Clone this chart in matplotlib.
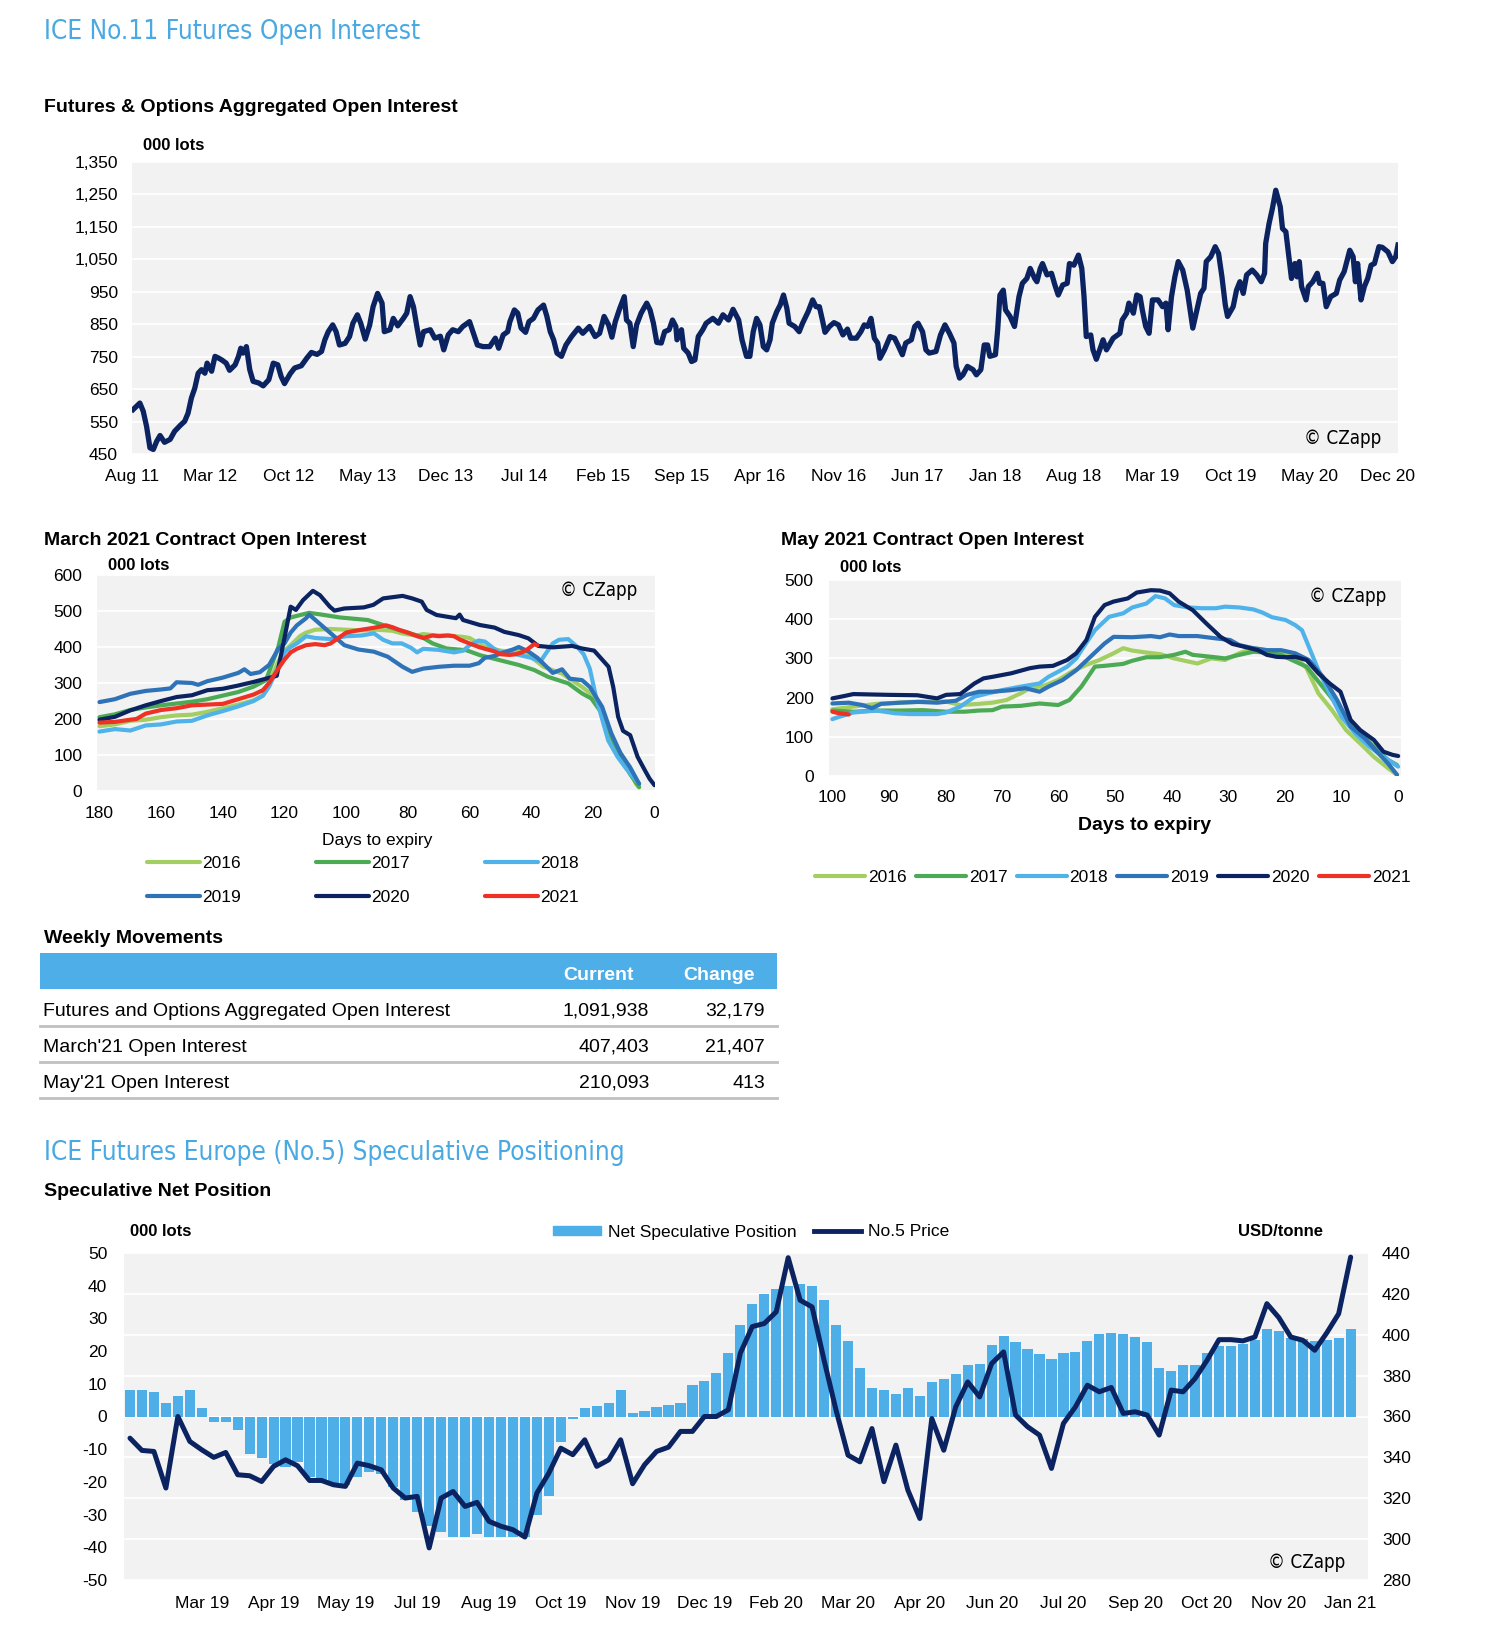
import matplotlib.pyplot as plt
import numpy as np
import pandas as pd
from matplotlib.lines import Line2D
from matplotlib.patches import Patch, Rectangle
from matplotlib.ticker import StrMethodFormatter

# ---------------- data ----------------
# aggregated open interest, months since Aug 2011 / 000 lots
oi_month = [0.1, 0.7, 1.0, 1.3, 1.6, 1.9, 2.2, 2.5, 2.9, 3.4, 3.8, 4.3, 4.7, 5.0, 5.3, 5.6, 5.9, 6.2, 6.5, 6.7,
            7.1, 7.4, 7.7, 8.0, 8.4, 8.7, 9.2, 9.5, 9.7, 9.9, 10.2, 10.5, 10.8, 11.3, 11.7, 12.2, 12.6, 13.0, 13.3, 13.6,
            14.1, 14.5, 15.1, 15.6, 16.0, 16.5, 16.9, 17.2, 17.5, 17.9, 18.2, 18.5, 19.0, 19.4, 19.7, 20.1, 20.4, 20.8, 21.2, 21.5,
            21.9, 22.3, 22.5, 23.0, 23.3, 23.7, 24.2, 24.5, 24.8, 25.1, 25.4, 25.7, 26.0, 26.6, 27.0, 27.5, 27.8, 28.2, 28.6, 29.1,
            29.5, 30.1, 30.4, 30.8, 31.3, 31.9, 32.4, 32.7, 33.1, 33.5, 33.7, 34.1, 34.4, 34.7, 35.1, 35.4, 35.8, 36.2, 36.7, 37.0,
            37.3, 37.6, 37.9, 38.3, 38.7, 39.2, 39.8, 40.2, 40.8, 41.3, 41.7, 42.1, 42.5, 42.8, 43.1, 43.5, 43.9, 44.1, 44.4, 44.7,
            45.0, 45.4, 45.9, 46.2, 46.5, 46.8, 47.2, 47.5, 47.9, 48.2, 48.5, 48.6, 49.0, 49.2, 49.6, 49.9, 50.2, 50.5, 50.9, 51.2,
            51.8, 52.3, 52.7, 53.2, 53.6, 54.1, 54.4, 54.8, 55.1, 55.4, 55.7, 56.0, 56.3, 56.6, 56.9, 57.1, 57.5, 57.8, 58.1, 58.4,
            58.6, 59.1, 59.5, 59.8, 60.3, 60.7, 61.0, 61.3, 61.6, 61.8, 62.2, 62.6, 63.0, 63.4, 63.8, 64.1, 64.6, 65.0, 65.3, 65.6,
            65.9, 66.2, 66.5, 66.7, 67.1, 67.6, 68.0, 68.3, 68.7, 69.0, 69.5, 69.8, 70.1, 70.5, 70.8, 71.1, 71.7, 72.1, 72.5, 72.9,
            73.3, 73.5, 73.8, 74.1, 74.5, 75.0, 75.3, 75.7, 76.0, 76.3, 76.5, 77.0, 77.2, 77.4, 77.7, 77.9, 78.3, 78.7, 79.1, 79.4,
            79.8, 80.1, 80.5, 80.7, 81.0, 81.2, 81.6, 82.0, 82.3, 82.6, 83.0, 83.4, 83.6, 84.0, 84.4, 84.7, 84.9, 85.1, 85.5, 85.7,
            86.0, 86.4, 86.6, 86.9, 87.5, 88.1, 88.3, 88.7, 88.9, 89.3, 89.6, 89.9, 90.1, 90.4, 90.7, 91.0, 91.5, 91.9, 92.2, 92.4,
            92.7, 93.0, 93.3, 93.7, 94.1, 94.4, 94.6, 94.9, 95.3, 95.6, 95.8, 96.2, 96.6, 96.9, 97.2, 97.5, 97.7, 98.2, 98.5, 98.8,
            99.1, 99.4, 99.9, 100.3, 100.7, 101.0, 101.1, 101.4, 101.7, 102.0, 102.4, 102.6, 102.9, 103.2, 103.4, 103.7, 103.9, 104.1, 104.3, 104.7,
            104.9, 105.3, 105.7, 105.9, 106.2, 106.5, 106.9, 107.4, 107.7, 108.1, 108.6, 108.9, 109.1, 109.3, 109.6, 109.9, 110.2, 110.5, 110.8, 111.2,
            111.5, 112.0, 112.4, 112.7, 112.9]
oi_value = [587, 607, 582, 535, 469, 464, 489, 507, 486, 495, 520, 538, 551, 576, 623, 653, 699, 710, 699, 730,
            705, 751, 746, 740, 730, 708, 725, 751, 776, 761, 781, 710, 674, 669, 660, 679, 730, 725, 689, 667,
            697, 715, 722, 746, 763, 757, 766, 802, 827, 848, 827, 786, 791, 812, 853, 879, 853, 804, 848, 904,
            945, 915, 827, 833, 868, 845, 868, 884, 935, 904, 843, 786, 827, 833, 807, 813, 771, 817, 833, 827,
            843, 858, 827, 786, 781, 781, 807, 776, 817, 827, 858, 894, 884, 838, 825, 858, 868, 894, 909, 874,
            827, 802, 761, 751, 786, 812, 838, 822, 843, 812, 822, 874, 848, 810, 858, 899, 935, 863, 853, 781,
            848, 884, 915, 894, 853, 794, 792, 827, 833, 863, 843, 802, 833, 776, 761, 735, 740, 812, 833, 853,
            868, 853, 879, 863, 896, 863, 802, 751, 751, 827, 868, 848, 781, 771, 802, 853, 889, 909, 940, 899,
            853, 843, 827, 853, 889, 925, 904, 904, 858, 825, 843, 855, 848, 817, 835, 807, 807, 827, 848, 843,
            868, 807, 792, 745, 771, 812, 807, 786, 756, 792, 802, 843, 853, 827, 771, 761, 766, 817, 848, 822,
            792, 720, 684, 694, 720, 710, 694, 710, 786, 786, 751, 756, 833, 940, 955, 894, 874, 843, 935, 976,
            991, 1022, 991, 981, 1022, 1037, 1002, 1007, 971, 940, 971, 976, 1037, 1032, 1063, 1022, 935, 812, 817, 771,
            742, 781, 802, 771, 807, 822, 863, 884, 915, 884, 940, 935, 894, 843, 822, 925, 925, 904, 915, 833,
            935, 996, 1043, 1017, 955, 884, 838, 884, 945, 961, 1043, 1058, 1089, 1068, 996, 909, 874, 904, 955, 981,
            945, 1002, 1017, 1002, 981, 1007, 1099, 1160, 1207, 1263, 1212, 1145, 1135, 1048, 991, 1037, 996, 1043, 966, 925,
            966, 981, 1007, 976, 976, 904, 935, 945, 986, 1012, 1078, 1058, 981, 1037, 925, 966, 991, 1032, 1037, 1089,
            1087, 1073, 1043, 1058, 1094]

# March contract open interest (days to expiry, 000 lots)
mar_2016 = [(180, 180), (175, 185), (170, 195), (165, 198), (160, 205), (155, 210), (150, 212), (145, 220), (140, 230),
            (135, 240), (130, 252), (127, 265), (125, 300), (122, 360), (120, 390), (118, 405), (115, 430), (113, 440),
            (110, 448), (105, 450), (100, 448), (95, 446), (90, 448), (85, 445), (82, 438), (80, 435), (77, 432), (75, 436),
            (72, 433), (70, 432), (67, 432), (65, 430), (62, 428), (60, 425), (57, 410), (55, 400), (50, 390), (47, 385),
            (44, 390), (42, 385), (40, 372), (36, 345), (30, 326), (23.5, 289), (19.5, 262), (16.5, 215), (13.5, 141),
            (9.5, 85), (6, 20), (5, 10)]
mar_2017 = [(180, 205), (175, 213), (170, 225), (165, 232), (160, 238), (155, 243), (150, 248), (145, 255), (140, 265),
            (135, 275), (130, 290), (126, 308), (122, 400), (120, 470), (118, 482), (112, 495), (108, 490), (102, 482),
            (93, 475), (88, 461), (82, 445), (75.5, 428), (72, 410), (67.5, 396), (61, 391), (56.5, 377), (50, 363),
            (44, 350), (39, 336), (34.5, 317), (28, 299), (23.5, 271), (20.5, 257), (17, 215), (14, 150), (11, 95),
            (8, 48), (5, 11)]
mar_2018 = [(180, 165), (175, 172), (170, 168), (165, 182), (160, 185), (155, 193), (150, 195), (145, 210), (140, 222),
            (135, 235), (130, 250), (127, 265), (125, 290), (122, 345), (120, 385), (118, 400), (116, 410), (113, 430),
            (110, 425), (105, 422), (100, 430), (95, 432), (91, 438), (88, 420), (85, 410), (82, 410), (79, 398), (77, 385),
            (75, 395), (70, 392), (65, 385), (62, 390), (60, 405), (57, 418), (55, 415), (52, 395), (50, 385), (45, 380),
            (40, 370), (37, 360), (35, 385), (33, 410), (31, 420), (28, 422), (25, 400), (23, 380), (21, 340), (19, 262),
            (17, 200), (15, 140), (12, 95), (9, 60), (5, 20)]
mar_2019 = [(180, 247), (175, 255), (170, 270), (165, 278), (160, 282), (157, 285), (155, 302), (150, 300), (148, 295),
            (145, 305), (140, 315), (135, 328), (133, 338), (131, 325), (128, 330), (125, 350), (122, 395), (120, 410),
            (118, 440), (116, 460), (113, 480), (112, 490), (105, 438), (100.6, 405), (96, 393), (91, 387), (86.5, 373),
            (81.7, 345), (78.6, 331), (75, 340), (70, 345), (65, 348), (60, 348), (57, 355), (55, 370), (52, 375),
            (49, 385), (46, 393), (44, 400), (41, 388), (38, 370), (35, 345), (33, 328), (30, 338), (27.5, 312),
            (23.5, 308), (21, 289), (17, 234), (14, 160), (11, 104), (8, 67), (5, 20)]
mar_2020 = [(180, 198), (175, 206), (170, 224), (165, 238), (160, 250), (155, 261), (150, 266), (145, 280), (140, 284),
            (135, 293), (130, 303), (126, 312), (122.5, 320), (119.5, 447), (118, 512), (116.3, 503), (114, 530),
            (110.8, 556), (108.5, 544), (105.3, 512), (103.8, 501), (100.6, 507), (94.3, 510), (91.2, 517), (88, 535),
            (81.7, 542), (78.6, 535), (75.5, 526), (73.9, 503), (70.7, 489), (64.4, 480), (63.2, 490), (62.1, 475),
            (56.6, 461), (51.9, 454), (48.7, 442), (44, 433), (40.9, 424), (37.7, 403), (33, 399), (26.7, 403),
            (23.6, 396), (19.6, 390), (17.3, 368), (14.9, 345), (13.4, 289), (11.8, 206), (10.2, 167), (7.9, 155),
            (5.5, 95), (3.1, 57), (1.6, 34), (0, 16)]
mar_2021 = [(180, 190), (175, 192), (170, 198), (168, 200), (165, 215), (160, 225), (155, 230), (150, 238), (145, 240),
            (140, 242), (135, 255), (130, 268), (127, 280), (125, 300), (122, 340), (120, 365), (118, 385), (116, 395),
            (113, 405), (110, 408), (107, 405), (105, 410), (102, 428), (100, 440), (97, 445), (95, 448), (92, 452),
            (90, 455), (87, 460), (85, 455), (83, 448), (80, 440), (77, 430), (75, 425), (72, 432), (70, 430), (67, 432),
            (65, 430), (63, 420), (60, 410), (57, 400), (55, 395), (52, 388), (50, 380), (47, 378), (45, 380), (43, 385),
            (41, 395), (39, 408), (38, 405)]

# May contract open interest
may_2016 = [(100, 170), (96.3, 177), (92.2, 184), (88.1, 187), (84, 190), (79.9, 190), (77.4, 181), (74.1, 184),
            (71.7, 187), (69.2, 194), (66.7, 211), (65.1, 224), (62.6, 230), (60.1, 245), (57.7, 266), (55.2, 283),
            (52.8, 296), (50.3, 313), (48.6, 326), (47, 320), (44.5, 315), (42.1, 311), (39.6, 300), (37.1, 292),
            (35.5, 287), (33, 300), (30.6, 296), (28.1, 313), (25.6, 326), (23.2, 321), (20.7, 317), (18.2, 304),
            (16.2, 275), (14.1, 211), (11.7, 168), (9.2, 117), (6.7, 83), (4.3, 49), (1.8, 20), (0.2, 3)]
may_2017 = [(100, 167), (96.3, 164), (92.2, 167), (88.1, 167), (84, 168), (79.9, 164), (76.6, 164), (74.1, 167),
            (71.7, 168), (70, 177), (66.7, 179), (63.4, 185), (60.1, 181), (58.1, 194), (56, 228), (53.6, 279),
            (51.9, 281), (48.6, 286), (47, 294), (44.5, 303), (42.1, 303), (39.6, 309), (37.6, 317), (36.3, 309),
            (33, 304), (30.6, 300), (28.1, 309), (25.6, 317), (23.2, 315), (20.7, 309), (18.2, 292), (16.2, 279),
            (14.1, 241), (11.7, 198), (9.2, 151), (6.7, 109), (4.3, 75), (1.8, 41), (0.2, 28)]
may_2018 = [(100, 145), (98.8, 151), (96.3, 162), (92.2, 167), (88.9, 160), (86.4, 158), (81.5, 158), (79.9, 162),
            (77.4, 177), (74.9, 202), (72.5, 211), (70, 219), (66.7, 228), (63.4, 236), (61.8, 253), (60.1, 266),
            (58.5, 279), (56.9, 300), (55.2, 338), (53.6, 372), (51.1, 406), (48.6, 415), (47, 430), (44.5, 440),
            (42.9, 459), (41.2, 453), (39.6, 436), (37.1, 430), (34.7, 428), (32.2, 428), (30.6, 432), (28.1, 430),
            (25.6, 425), (24, 417), (22.3, 405), (19.9, 398), (18.2, 385), (17, 372), (15.8, 330), (14.1, 270),
            (12.1, 211), (10, 151), (7.6, 109), (5.1, 75), (2.6, 49), (0, 24)]
may_2019 = [(100, 185), (97.1, 187), (94.7, 181), (93, 173), (91.4, 184), (88.1, 187), (84.8, 189), (81.5, 187),
            (78.2, 192), (76.2, 207), (74.1, 215), (71.7, 215), (68.4, 219), (65.9, 224), (63.4, 215), (61.8, 228),
            (59.3, 245), (56.9, 270), (54.4, 304), (51.9, 338), (50.3, 355), (47, 354), (43.7, 357), (42.1, 354),
            (40.4, 361), (38.8, 357), (35.5, 357), (32.2, 351), (29.7, 347), (28.1, 334), (25.6, 326), (23.2, 321),
            (20.7, 321), (18.2, 313), (15.8, 296), (13.3, 253), (10.8, 194), (8.4, 126), (5.9, 96), (3.5, 58),
            (1.8, 32), (0.2, 3)]
may_2020 = [(100, 198), (97.9, 204), (96.3, 209), (90, 207), (85, 206), (81.5, 198), (79.9, 207), (77.4, 209),
            (74.9, 236), (73.3, 249), (71.7, 253), (68.4, 262), (65.1, 275), (63.4, 279), (61, 281), (58.5, 296),
            (56.9, 313), (55.1, 347), (53.6, 406), (51.9, 436), (50.3, 445), (47.8, 453), (46.2, 468), (43.7, 474),
            (42.1, 473), (40.4, 466), (38.8, 445), (36.3, 423), (33.9, 389), (31.4, 355), (29.3, 337), (27.3, 330),
            (24.8, 321), (23.2, 309), (21.5, 304), (19.9, 303), (18.2, 304), (16.2, 296), (14.1, 262), (12.1, 236),
            (10.2, 215), (8.4, 143), (6.7, 117), (4.3, 92), (2.6, 62), (1, 54), (0, 51)]
may_2021 = [(100, 164), (98.8, 160), (97.1, 157)]

years = ['2016', '2017', '2018', '2019', '2020', '2021']
mar_series = [mar_2016, mar_2017, mar_2018, mar_2019, mar_2020, mar_2021]
may_series = [may_2016, may_2017, may_2018, may_2019, may_2020, may_2021]

# weekly movements table
table_rows = ["Futures and Options Aggregated Open Interest", "March'21 Open Interest", "May'21 Open Interest"]
table_current = [1091938, 407403, 210093]
table_change = [32179, 21407, 413]

# No.5 speculative positioning, weekly from 22 Jan 2019
net_spec = [8.2, 8.0, 7.5, 4.2, 6.2, 8.2, 2.6, -1.8, -1.7, -4.2,
            -11.6, -12.8, -14.4, -15.4, -13.8, -18.4, -20.0, -20.5, -21.0, -18.4,
            -16.9, -17.5, -21.5, -25.6, -29.1, -33.4, -35.2, -36.8, -37.0, -36.0,
            -37.0, -37.0, -36.8, -37.0, -30.1, -24.2, -7.7, -0.7, 2.6, 3.2,
            4.2, 8.0, 1.1, 1.7, 3.0, 3.5, 4.0, 9.5, 10.8, 13.3,
            19.5, 27.9, 34.4, 37.6, 38.9, 39.8, 40.6, 39.9, 35.5, 28.1,
            23.1, 14.7, 8.6, 8.0, 7.0, 8.6, 6.3, 10.4, 11.5, 13.0,
            15.9, 16.2, 21.8, 24.5, 22.7, 20.5, 19.1, 17.7, 19.5, 19.8,
            23.1, 25.1, 25.6, 25.3, 24.3, 22.9, 14.7, 13.8, 15.7, 15.9,
            19.5, 21.5, 21.7, 22.3, 23.5, 26.8, 26.1, 24.1, 23.6, 23.0,
            23.3, 24.0, 26.8]
no5_price = [349.4, 343.4, 342.9, 325.0, 360.0, 347.8, 343.7, 340.0, 342.4, 331.5,
             331.0, 328.2, 335.6, 338.8, 335.9, 328.7, 328.7, 326.6, 325.8, 337.2,
             335.9, 333.9, 325.0, 320.1, 320.9, 295.7, 320.1, 323.3, 316.0, 318.0,
             308.7, 306.3, 304.6, 301.0, 322.5, 332.3, 344.5, 341.3, 348.6, 335.6,
             338.8, 348.6, 327.1, 336.4, 342.9, 345.0, 352.7, 352.7, 360.0, 360.0,
             363.3, 391.0, 404.0, 405.5, 411.2, 437.7, 416.9, 413.6, 387.5, 363.1,
             341.1, 337.8, 354.1, 328.1, 346.0, 324.0, 310.1, 359.0, 343.5, 364.7,
             376.9, 369.6, 385.9, 391.6, 360.7, 355.0, 350.9, 334.6, 356.6, 364.7,
             375.3, 372.1, 374.2, 361.5, 362.3, 360.7, 350.9, 372.9, 372.1, 378.6,
             387.5, 397.6, 397.6, 397.0, 398.9, 415.2, 408.4, 398.9, 397.3, 392.4,
             400.9, 410.3, 438.0]
weeks = pd.date_range('2019-01-22', periods=len(net_spec), freq='7D')

# ---------------- style ----------------
NAVY = '#0b2461'
TITLE_BLUE = '#4aa9e2'
BAR_BLUE = '#4daee8'
BG = '#f2f2f2'
year_colors = ['#a3cf62', '#4caa55', '#4fb3ea', '#2e72b8', '#0b2461', '#ee3124']
NARROW = dict(family=['DejaVu Sans'], stretch='condensed')
plt.rcParams['font.family'] = ['Liberation Sans', 'DejaVu Sans']
plt.rcParams['axes.unicode_minus'] = False

W, H = 1490, 1652
fig = plt.figure(figsize=(W / 100, H / 100), dpi=100)


def px_axes(l, t, r, b):
    return fig.add_axes([l / W, 1 - b / H, (r - l) / W, (b - t) / H])


def ftext(x, y, s, **kw):
    kw.setdefault('va', 'center')
    fig.text(x / W, 1 - y / H, s, **kw)


def style(ax, xpad, ypad):
    ax.set_facecolor(BG)
    for s in ax.spines.values():
        s.set_visible(False)
    ax.tick_params(length=0, labelsize=12.5)
    ax.tick_params(axis='x', pad=xpad)
    ax.tick_params(axis='y', pad=ypad)
    ax.grid(axis='y', color='white', lw=1.3)
    ax.set_axisbelow(True)


# ---------------- top: aggregated OI ----------------
ftext(44, 32, 'ICE No.11 Futures Open Interest', color=TITLE_BLUE, fontsize=18.8, **NARROW)
ftext(44, 107, 'Futures & Options Aggregated Open Interest', fontsize=14, weight='bold')
ftext(143, 145, '000 lots', fontsize=12, weight='bold')

ax = px_axes(132, 162, 1398, 454)
style(ax, 10.8, 10)
ax.plot(oi_month, oi_value, color=NAVY, lw=3.8, solid_joinstyle='round')
ax.set_xlim(0, 112.9)
ax.set_ylim(450, 1350)
ax.set_yticks(range(450, 1351, 100))
ax.yaxis.set_major_formatter(StrMethodFormatter('{x:,.0f}'))
xt = np.arange(0, 113, 7)
ax.set_xticks(xt, pd.date_range('2011-08-01', periods=len(xt), freq='7MS').strftime('%b %y'))
ftext(1381, 439, '\u00a9 CZapp', ha='right', fontsize=13.5, **NARROW)

# ---------------- March contract ----------------
ftext(44, 541, 'March 2021 Contract Open Interest', fontsize=14, weight='bold')
ftext(108, 566, '000 lots', fontsize=12, weight='bold')
ax = px_axes(97, 575, 655, 791)
style(ax, 10.8, 10.5)
handles = []
for yr, ser, c in zip(years, mar_series, year_colors):
    d, v = zip(*ser)
    ln, = ax.plot(d, v, color=c, lw=3.0, solid_joinstyle='round', solid_capstyle='round', label=yr)
    handles.append(ln)
ax.set_xlim(180.8, -0.15)
ax.set_ylim(0, 600)
ax.set_xticks(range(180, -1, -20))
ax.set_yticks(range(0, 601, 100))
ftext(377, 840, 'Days to expiry', ha='center', fontsize=12.5)
ftext(637, 590, '\u00a9 CZapp', ha='right', fontsize=13.5, **NARROW)
order = [0, 3, 1, 4, 2, 5]
fig.legend([handles[i] for i in order], [years[i] for i in order], ncol=3, loc='upper left',
           bbox_to_anchor=(147 / W, 1 - 856 / H), frameon=False, fontsize=12.5, handlelength=3.05,
           handletextpad=0.15, columnspacing=4.3, labelspacing=1.1, borderpad=0, borderaxespad=0)

# ---------------- May contract ----------------
ftext(781, 541, 'May 2021 Contract Open Interest', fontsize=14, weight='bold')
ftext(840, 567, '000 lots', fontsize=12, weight='bold')
ax = px_axes(829, 580, 1401, 776)
style(ax, 10.2, 11)
handles = []
for yr, ser, c in zip(years, may_series, year_colors):
    d, v = zip(*ser)
    ln, = ax.plot(d, v, color=c, lw=3.0, solid_joinstyle='round', solid_capstyle='round', label=yr)
    handles.append(ln)
ax.set_xlim(100.6, -0.5)
ax.set_ylim(0, 500)
ax.set_xticks(range(100, -1, -10))
ax.set_yticks(range(0, 501, 100))
ftext(1145, 826, 'Days to expiry', ha='center', fontsize=14, weight='bold')
ftext(1386, 597, '\u00a9 CZapp', ha='right', fontsize=13.5, **NARROW)
fig.legend(handles, years, ncol=6, loc='center left', bbox_to_anchor=(815 / W, 1 - 877 / H),
           frameon=False, fontsize=12.5, handlelength=2.88, handletextpad=0.17, columnspacing=0.53,
           borderpad=0, borderaxespad=0)

# ---------------- weekly movements table ----------------
ftext(44, 938, 'Weekly Movements', fontsize=14, weight='bold')
tax = px_axes(38, 950, 780, 1100)
tax.set_xlim(38, 780)
tax.set_ylim(1100, 950)
tax.axis('off')
tax.add_patch(Rectangle((40, 953), 737, 36, color=BAR_BLUE, lw=0))
tax.text(634, 976, 'Current', ha='right', va='center', color='white', fontsize=14, weight='bold')
tax.text(755, 976, 'Change', ha='right', va='center', color='white', fontsize=14, weight='bold')
for i, (lab, cur, chg) in enumerate(zip(table_rows, table_current, table_change)):
    y = 1011 + i * 36
    tax.text(43, y, lab, ha='left', va='center', fontsize=14)
    tax.text(649, y, f'{cur:,}', ha='right', va='center', fontsize=14)
    tax.text(765, y, f'{chg:,}', ha='right', va='center', fontsize=14)
    tax.plot([40, 777], [y + 14.5, y + 14.5], color='#c0c0c0', lw=2)

# ---------------- No.5 speculative positioning ----------------
ftext(44, 1153, 'ICE Futures Europe (No.5) Speculative Positioning', color=TITLE_BLUE, fontsize=18.8, **NARROW)
ftext(44, 1192, 'Speculative Net Position', fontsize=14, weight='bold')
ftext(130, 1231, '000 lots', fontsize=12, weight='bold')
ftext(1323, 1231, 'USD/tonne', ha='right', fontsize=12, weight='bold')

ax = px_axes(124, 1253, 1368, 1580)
style(ax, 11.6, 12)
ax.grid(False)
idx = np.arange(len(net_spec))
ax.bar(idx, net_spec, width=0.85, color=BAR_BLUE, zorder=2)
ax.set_xlim(-0.5, 103.45)
ax.set_ylim(-50, 50)
ax.set_yticks(range(-50, 51, 10))
ax.set_xticks(idx[6::6], weeks[6::6].strftime('%b %y'))
ax2 = ax.twinx()
for s in ax2.spines.values():
    s.set_visible(False)
ax2.plot(idx, no5_price, color=NAVY, lw=3.6, solid_joinstyle='round', solid_capstyle='round')
ax2.set_ylim(280, 440)
price_ticks = range(280, 441, 20)
ax2.set_yticks(price_ticks)
ax2.tick_params(length=0, labelsize=12.5, pad=10)
for p in price_ticks:
    ax.axhline((p - 360) / 1.6, color='white', lw=1.3, zorder=1)
ftext(1345, 1562, '\u00a9 CZapp', ha='right', fontsize=13.5, **NARROW)
fig.legend([Patch(color=BAR_BLUE), Line2D([], [], color=NAVY, lw=3.5)],
           ['Net Speculative Position', 'No.5 Price'], ncol=2, loc='center left',
           bbox_to_anchor=(553 / W, 1 - 1232 / H), frameon=False, fontsize=12.5, handlelength=2.75,
           handleheight=0.45, handletextpad=0.4, columnspacing=1.0, borderpad=0, borderaxespad=0)

fig.savefig('out.png', dpi=100)
